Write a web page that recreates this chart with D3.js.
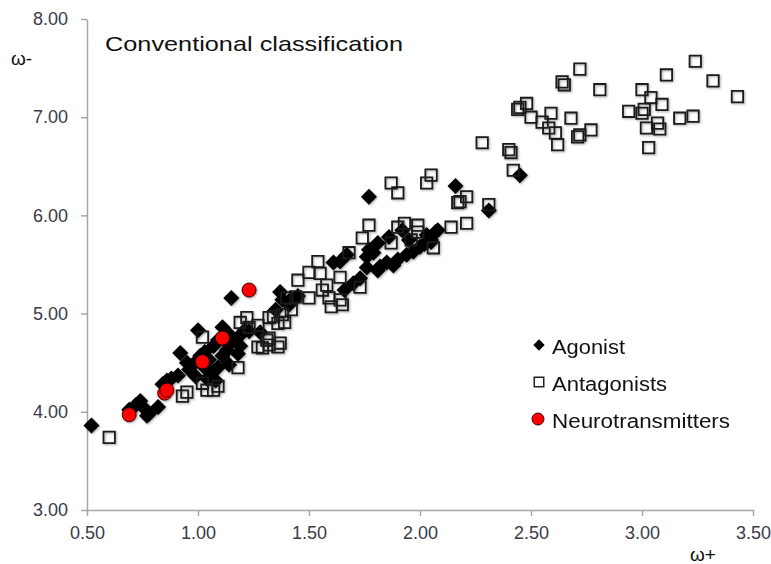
<!DOCTYPE html>
<html>
<head>
<meta charset="utf-8">
<script src="https://cdn.jsdelivr.net/npm/d3@7"></script>
<style>
  body { margin: 0; background: #fff; }
  text { font-family: "Liberation Sans", Arial, sans-serif; }
</style>
</head>
<body>
<div id="container"></div>
<script>
/* DATA */
const xTicks = [0.5, 1.0, 1.5, 2.0, 2.5, 3.0, 3.5];
const yTicks = [3, 4, 5, 6, 7, 8];
const seriesNames = ["Agonist", "Antagonists", "Neurotransmitters"];

// [omega+, omega-]
const agonist = [
  [0.52,3.86],[0.69,4.02],[0.72,4.07],[0.74,4.11],[0.76,4.03],[0.78,3.98],[0.82,4.05],[0.77,3.96],
  [0.84,4.28],[0.86,4.32],[0.88,4.34],[0.91,4.37],[0.92,4.60],[0.95,4.50],[0.96,4.43],[0.99,4.51],
  [1.01,4.57],[1.03,4.61],[1.00,4.83],[1.05,4.53],[1.07,4.41],[1.09,4.45],[1.11,4.57],[1.13,4.63],
  [1.14,4.68],[1.11,4.86],[1.15,5.16],[1.17,4.73],[1.19,4.78],[1.21,4.83],[1.23,4.82],[1.28,4.81],
  [1.08,4.32],[1.04,4.34],[1.14,4.48],[1.18,4.59],[1.07,4.67],[1.09,4.73],[1.03,4.45],[0.99,4.36],
  [1.19,4.67],[1.14,4.79],
  [1.35,5.04],[1.37,5.22],[1.38,5.14],[1.41,5.09],[1.42,5.15],[1.45,5.18],
  [1.61,5.52],[1.64,5.53],[1.67,5.60],[1.66,5.24],[1.70,5.31],[1.73,5.36],[1.76,5.47],[1.79,5.62],
  [1.81,5.72],[1.77,6.19],[1.76,5.58],[1.77,5.65],[1.81,5.44],[1.82,5.48],[1.85,5.52],[1.88,5.49],
  [1.90,5.55],[1.94,5.60],[1.97,5.63],[2.00,5.68],[2.02,5.71],[2.05,5.75],[2.07,5.83],[1.86,5.78],
  [1.92,5.85],[1.95,5.75],[2.03,5.80],[2.08,5.85],[2.05,5.73],[2.16,6.30],[2.31,6.05],[2.45,6.41]
];

const antagonists = [
  [0.60,3.74],[0.93,4.16],[1.02,4.29],[1.04,4.22],[1.07,4.22],[1.09,4.26],[0.95,4.20],[1.18,4.45],
  [1.19,4.91],[1.22,4.96],[1.27,4.88],[1.27,4.66],[1.29,4.65],[1.32,4.68],[1.36,4.66],[1.37,4.70],
  [1.31,4.73],[1.32,4.96],[1.36,4.90],[1.40,5.16],[1.23,4.86],[1.02,4.76],
  [1.77,5.90],[1.74,5.77],[1.68,5.62],[1.54,5.53],[1.50,5.42],[1.45,5.34],[1.55,5.41],[1.58,5.29],
  [1.56,5.24],[1.59,5.16],[1.60,5.07],[1.64,5.14],[1.65,5.09],[1.64,5.37],[1.50,5.16],[1.44,5.17],
  [1.42,5.04],[1.38,4.99],[1.39,4.91],[1.34,4.97],[1.32,4.75],[1.73,5.27],
  [1.87,6.33],[1.90,6.23],[2.05,6.41],[2.03,6.33],[2.21,6.19],[2.18,6.14],[2.17,6.13],[2.21,5.92],
  [2.14,5.88],[1.90,5.88],[1.93,5.92],[1.99,5.90],[1.99,5.83],[1.87,5.72],[1.96,5.75],[2.06,5.67],
  [2.31,6.11],[2.28,6.74],[2.40,6.67],[2.41,6.64],[2.42,6.46],
  [2.64,7.36],[2.65,7.33],[2.72,7.49],[2.81,7.28],[2.45,7.10],[2.44,7.08],[2.48,7.14],[2.50,7.00],
  [2.55,6.95],[2.59,7.04],[2.58,6.89],[2.61,6.84],[2.62,6.72],[2.68,6.99],[2.71,6.80],[2.72,6.82],
  [2.77,6.87],[2.94,7.06],[3.00,7.28],[3.04,7.20],[3.00,7.04],[3.01,7.08],[3.09,7.13],[3.11,7.43],
  [3.02,6.89],[3.07,6.94],[3.08,6.88],[3.03,6.69],[3.17,6.99],[3.23,7.01],[3.24,7.57],[3.32,7.37],
  [3.43,7.21]
];

const neurotransmitters = [
  [0.69,3.97],[0.85,4.19],[0.86,4.22],[1.02,4.51],[1.11,4.75],[1.23,5.24]
];

/* SIZES */
const width = 771;
const height = 564;

const svg = d3.select("#container")
  .append("svg")
  .attr("width", width)
  .attr("height", height);

// soft shadow like the office-style markers
const filter = svg.append("defs").append("filter")
  .attr("id", "shadow")
  .attr("x", "-50%").attr("y", "-50%").attr("width", "200%").attr("height", "200%");
filter.append("feDropShadow")
  .attr("dx", 1).attr("dy", 1).attr("stdDeviation", 0.8)
  .attr("flood-color", "#000").attr("flood-opacity", 0.35);

/* SCALES */
const xScale = d3.scaleLinear().domain([0.5, 3.5]).range([87, 753]);
const yScale = d3.scaleLinear().domain([3, 8]).range([510, 19]);

/* AXES */
const axisColor = "#a6a6a6";
const labelColor = "#3a3a4a";

const xAxisGroup = svg.append("g")
  .attr("transform", `translate(0, ${yScale(3)})`)
  .call(d3.axisBottom(xScale).tickValues(xTicks).tickFormat(d3.format(".2f"))
    .tickSizeInner(6).tickSizeOuter(0).tickPadding(10));

const yAxisGroup = svg.append("g")
  .attr("transform", `translate(${xScale(0.5)}, 0)`)
  .call(d3.axisLeft(yScale).tickValues(yTicks).tickFormat(d3.format(".2f"))
    .tickSizeInner(6).tickSizeOuter(0).tickPadding(13));

[xAxisGroup, yAxisGroup].forEach(g => {
  g.select(".domain").attr("stroke", axisColor).attr("stroke-width", 1.5);
  g.selectAll(".tick line").attr("stroke", axisColor).attr("stroke-width", 1.5);
  g.selectAll(".tick text")
    .attr("fill", labelColor)
    .style("font-size", "18px")
    .style("font-family", '"Liberation Sans", Arial, sans-serif');
});

// axis titles
svg.append("text")
  .attr("x", 11).attr("y", 65)
  .style("font-size", "19px")
  .attr("fill", "#111")
  .text("ω-");

svg.append("text")
  .attr("x", 690).attr("y", 561)
  .style("font-size", "19px")
  .attr("fill", "#111")
  .text("ω+");

// chart title
svg.append("text")
  .attr("x", 105).attr("y", 51)
  .style("font-size", "21px")
  .attr("fill", "#111")
  .attr("textLength", 298)
  .attr("lengthAdjust", "spacingAndGlyphs")
  .text("Conventional classification");

/* MARKS */
const diamond = d3.symbol().type(d3.symbolSquare).size(128);
const square = d3.symbol().type(d3.symbolSquare).size(130);

svg.append("g").attr("filter", "url(#shadow)")
  .selectAll("path.agonist")
  .data(agonist)
  .join("path")
  .attr("class", "agonist")
  .attr("d", diamond)
  .attr("transform", d => `translate(${xScale(d[0])},${yScale(d[1])}) rotate(45)`)
  .attr("fill", "#000");

svg.append("g").attr("filter", "url(#shadow)")
  .selectAll("path.antagonist")
  .data(antagonists)
  .join("path")
  .attr("class", "antagonist")
  .attr("d", square)
  .attr("transform", d => `translate(${xScale(d[0])},${yScale(d[1])})`)
  .attr("fill", "none")
  .attr("stroke", "#1a1a1a")
  .attr("stroke-width", 1.8);

svg.append("g").attr("filter", "url(#shadow)")
  .selectAll("circle.neuro")
  .data(neurotransmitters)
  .join("circle")
  .attr("class", "neuro")
  .attr("cx", d => xScale(d[0]))
  .attr("cy", d => yScale(d[1]))
  .attr("r", 7)
  .attr("fill", "#ff0000")
  .attr("stroke", "#3a0000")
  .attr("stroke-width", 1);

/* LEGEND */
const legend = svg.append("g").attr("transform", "translate(539, 345)");
const rowGap = 37;
const labelWidths = [73, 115, 178];

seriesNames.forEach((name, i) => {
  const row = legend.append("g").attr("transform", `translate(0, ${i * rowGap})`);
  if (i === 0) {
    row.append("path").attr("d", d3.symbol().type(d3.symbolSquare).size(64))
      .attr("transform", "rotate(45)").attr("fill", "#000");
  } else if (i === 1) {
    row.append("path").attr("d", d3.symbol().type(d3.symbolSquare).size(90))
      .attr("fill", "none").attr("stroke", "#222").attr("stroke-width", 1.5);
  } else {
    row.append("circle").attr("r", 6).attr("cx", -1)
      .attr("fill", "#ff0000").attr("stroke", "#3a0000").attr("stroke-width", 1);
  }
  row.append("text")
    .attr("x", 13).attr("y", 9)
    .style("font-size", "20px")
    .attr("fill", "#111")
    .attr("textLength", labelWidths[i])
    .attr("lengthAdjust", "spacingAndGlyphs")
    .text(name);
});
</script>
</body>
</html>
